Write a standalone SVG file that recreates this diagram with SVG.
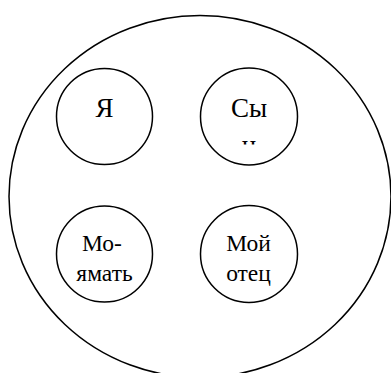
<svg xmlns="http://www.w3.org/2000/svg" width="391" height="373" viewBox="0 0 391 373">
<style>
.shape{fill:#fff;stroke:#000;stroke-width:1.5}
.t{font-family:'Liberation Serif','DejaVu Serif',serif;fill:#000;text-anchor:middle}
.big{font-size:27px}
.sm{font-size:23.5px}
</style>
<defs>
<clipPath id="clipSon"><rect x="200" y="60" width="100" height="84.5"/></clipPath>
</defs>
<rect width="391" height="373" fill="#fff"/>
<g id="outer">
<ellipse class="shape" cx="200" cy="196.5" rx="191" ry="181"/>
</g>
<g id="node-ya">
<circle class="shape" cx="104.5" cy="116.5" r="48"/>
<text class="t big" x="104.5" y="117" font-family="Liberation Serif, serif">Я</text>
</g>
<g id="node-son">
<circle class="shape" cx="249" cy="116.5" r="48.5"/>
<g clip-path="url(#clipSon)">
<text class="t big" x="249" y="117">Сы</text>
<text class="t big" x="249" y="154">н</text>
</g>
</g>
<g id="node-mother">
<circle class="shape" cx="104.5" cy="254" r="48"/>
<text class="t sm" x="102" y="251">Мо-</text>
<text class="t sm" x="104.5" y="281">ямать</text>
</g>
<g id="node-father">
<circle class="shape" cx="249" cy="254" r="48.5"/>
<text class="t sm" x="248.5" y="251">Мой</text>
<text class="t sm" x="248.5" y="281">отец</text>
</g>
<g id="connectors"></g>
</svg>
